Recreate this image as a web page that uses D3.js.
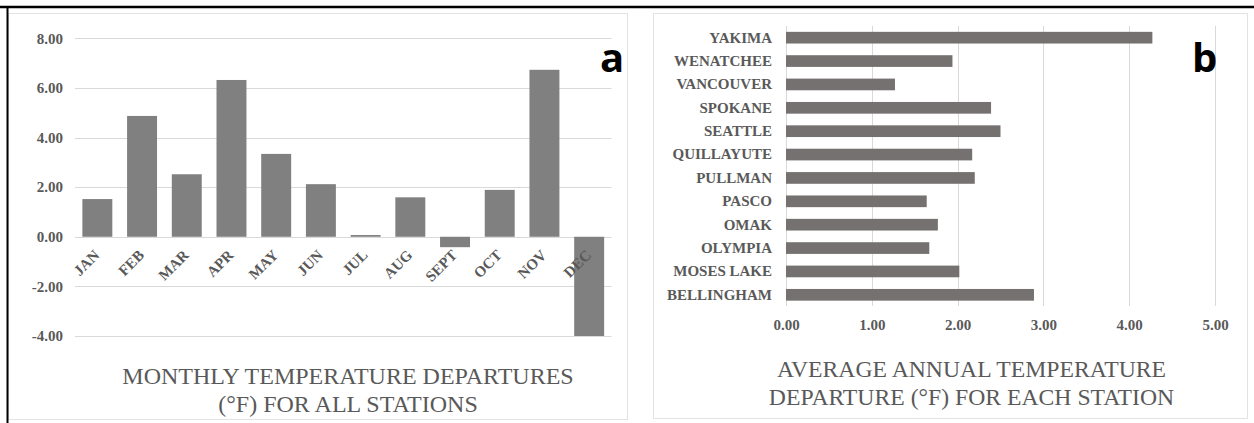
<!DOCTYPE html>
<html>
<head>
<meta charset="utf-8">
<script src="https://cdn.jsdelivr.net/npm/d3@7"></script>
<style>
  html, body { margin: 0; padding: 0; background: #fff; }
  svg { display: block; }
</style>
</head>
<body>
<svg id="chart" width="1254" height="423"></svg>
<script>
// Monthly temperature departures (°F), all stations
const months = ["JAN", "FEB", "MAR", "APR", "MAY", "JUN", "JUL", "AUG", "SEPT", "OCT", "NOV", "DEC"];
const monthlyDeparture = [1.52, 4.87, 2.52, 6.32, 3.34, 2.12, 0.07, 1.59, -0.42, 1.89, 6.73, -4.0];
const monthTicks = [-4, -2, 0, 2, 4, 6, 8];

// Average annual temperature departure (°F), per station (top to bottom)
const stations = ["YAKIMA", "WENATCHEE", "VANCOUVER", "SPOKANE", "SEATTLE", "QUILLAYUTE",
                  "PULLMAN", "PASCO", "OMAK", "OLYMPIA", "MOSES LAKE", "BELLINGHAM"];
const stationDeparture = [4.27, 1.94, 1.27, 2.39, 2.50, 2.17, 2.20, 1.64, 1.77, 1.67, 2.02, 2.89];
const stationTicks = [0, 1, 2, 3, 4, 5];

const titleA = ["MONTHLY TEMPERATURE DEPARTURES", "(°F) FOR ALL STATIONS"];
const titleB = ["AVERAGE ANNUAL TEMPERATURE", "DEPARTURE (°F) FOR EACH STATION"];

const svg = d3.select("#chart");
const fmt = d => d.toFixed(2);
const serif = "'Liberation Serif', 'Times New Roman', 'DejaVu Serif', serif";
const sans = "'Open Sans', 'Liberation Sans', sans-serif";
const labelColor = "#595959";
const gridColor = "#d9d9d9";

function tickText(sel) {
  sel.style("font-family", serif).style("font-weight", "bold").style("font-size", "15px")
    .attr("fill", labelColor);
}

// Panel frames
svg.append("rect").attr("x", 8.5).attr("y", 13.5).attr("width", 619).attr("height", 406)
  .attr("fill", "none").attr("stroke", "#e3e3e3");
svg.append("rect").attr("x", 653.5).attr("y", 13.5).attr("width", 594).attr("height", 405)
  .attr("fill", "none").attr("stroke", "#e3e3e3");
svg.append("line").attr("x1", 0).attr("x2", 1254).attr("y1", 7).attr("y2", 7)
  .attr("stroke", "#000").attr("stroke-width", 2.5);
svg.append("line").attr("x1", 7.5).attr("x2", 7.5).attr("y1", 6).attr("y2", 423)
  .attr("stroke", "#000").attr("stroke-width", 2);

// ---- Panel a: vertical bars ----
const xA = d3.scaleBand().domain(months).range([75, 611.5]).paddingInner(0.33).paddingOuter(0.165);
const yA = d3.scaleLinear().domain([-4, 8]).range([336, 38.3]);

const gA = svg.append("g");
gA.append("g").selectAll("line").data(monthTicks).join("line")
  .attr("x1", 75).attr("x2", 611.5)
  .attr("y1", d => Math.round(yA(d)) + 0.5).attr("y2", d => Math.round(yA(d)) + 0.5)
  .attr("stroke", gridColor).attr("stroke-width", 1);

const yAxisA = d3.axisLeft(yA).tickValues(monthTicks).tickFormat(fmt).tickSize(0).tickPadding(0);
gA.append("g").attr("transform", "translate(63,0)").call(yAxisA)
  .call(g => g.select(".domain").remove())
  .call(g => g.selectAll("text").call(tickText));

gA.append("g").selectAll("rect").data(months).join("rect")
  .attr("x", d => xA(d))
  .attr("width", xA.bandwidth())
  .attr("y", (d, i) => yA(Math.max(0, monthlyDeparture[i])))
  .attr("height", (d, i) => Math.abs(yA(monthlyDeparture[i]) - yA(0)))
  .attr("fill", "#808080");

// Month labels, slanted under each bar
gA.append("g").selectAll("text").data(months).join("text")
  .attr("transform", d => `translate(${xA(d) + xA.bandwidth() / 2 + 3},256) rotate(-45)`)
  .attr("text-anchor", "end")
  .call(tickText)
  .text(d => d);

gA.append("g").selectAll("text").data(titleA).join("text")
  .attr("x", 348).attr("y", (d, i) => 384 + i * 28)
  .attr("text-anchor", "middle")
  .style("font-family", serif).style("font-size", "24px").attr("fill", labelColor)
  .text(d => d);

svg.append("text").attr("x", 600).attr("y", 72)
  .style("font-family", sans).style("font-weight", "bold").style("font-size", "40px")
  .attr("fill", "#000").text("a");

// ---- Panel b: horizontal bars ----
const xB = d3.scaleLinear().domain([0, 5]).range([786, 1215]);
const yB = d3.scaleBand().domain(stations).range([26, 306.5]).paddingInner(0.5).paddingOuter(0.25);

const gB = svg.append("g");
gB.append("g").selectAll("line").data(stationTicks).join("line")
  .attr("x1", d => Math.round(xB(d)) + 0.5).attr("x2", d => Math.round(xB(d)) + 0.5)
  .attr("y1", 26).attr("y2", 306)
  .attr("stroke", gridColor).attr("stroke-width", 1);

gB.append("g").selectAll("rect").data(stations).join("rect")
  .attr("x", xB(0))
  .attr("y", d => yB(d))
  .attr("height", yB.bandwidth())
  .attr("width", (d, i) => xB(stationDeparture[i]) - xB(0))
  .attr("fill", "#767171");

const yAxisB = d3.axisLeft(yB).tickSize(0).tickPadding(0);
gB.append("g").attr("transform", "translate(772,0)").call(yAxisB)
  .call(g => g.select(".domain").remove())
  .call(g => g.selectAll("text").call(tickText));

const xAxisB = d3.axisBottom(xB).tickValues(stationTicks).tickFormat(fmt).tickSize(0).tickPadding(0);
gB.append("g").attr("transform", "translate(0,319)").call(xAxisB)
  .call(g => g.select(".domain").remove())
  .call(g => g.selectAll("text").call(tickText));

gB.append("g").selectAll("text").data(titleB).join("text")
  .attr("x", 971.5).attr("y", (d, i) => 377 + i * 27.5)
  .attr("text-anchor", "middle")
  .style("font-family", serif).style("font-size", "23.7px").attr("fill", labelColor)
  .text(d => d);

svg.append("text").attr("x", 1192).attr("y", 72)
  .style("font-family", sans).style("font-weight", "bold").style("font-size", "40px")
  .attr("fill", "#000").text("b");
</script>
</body>
</html>
